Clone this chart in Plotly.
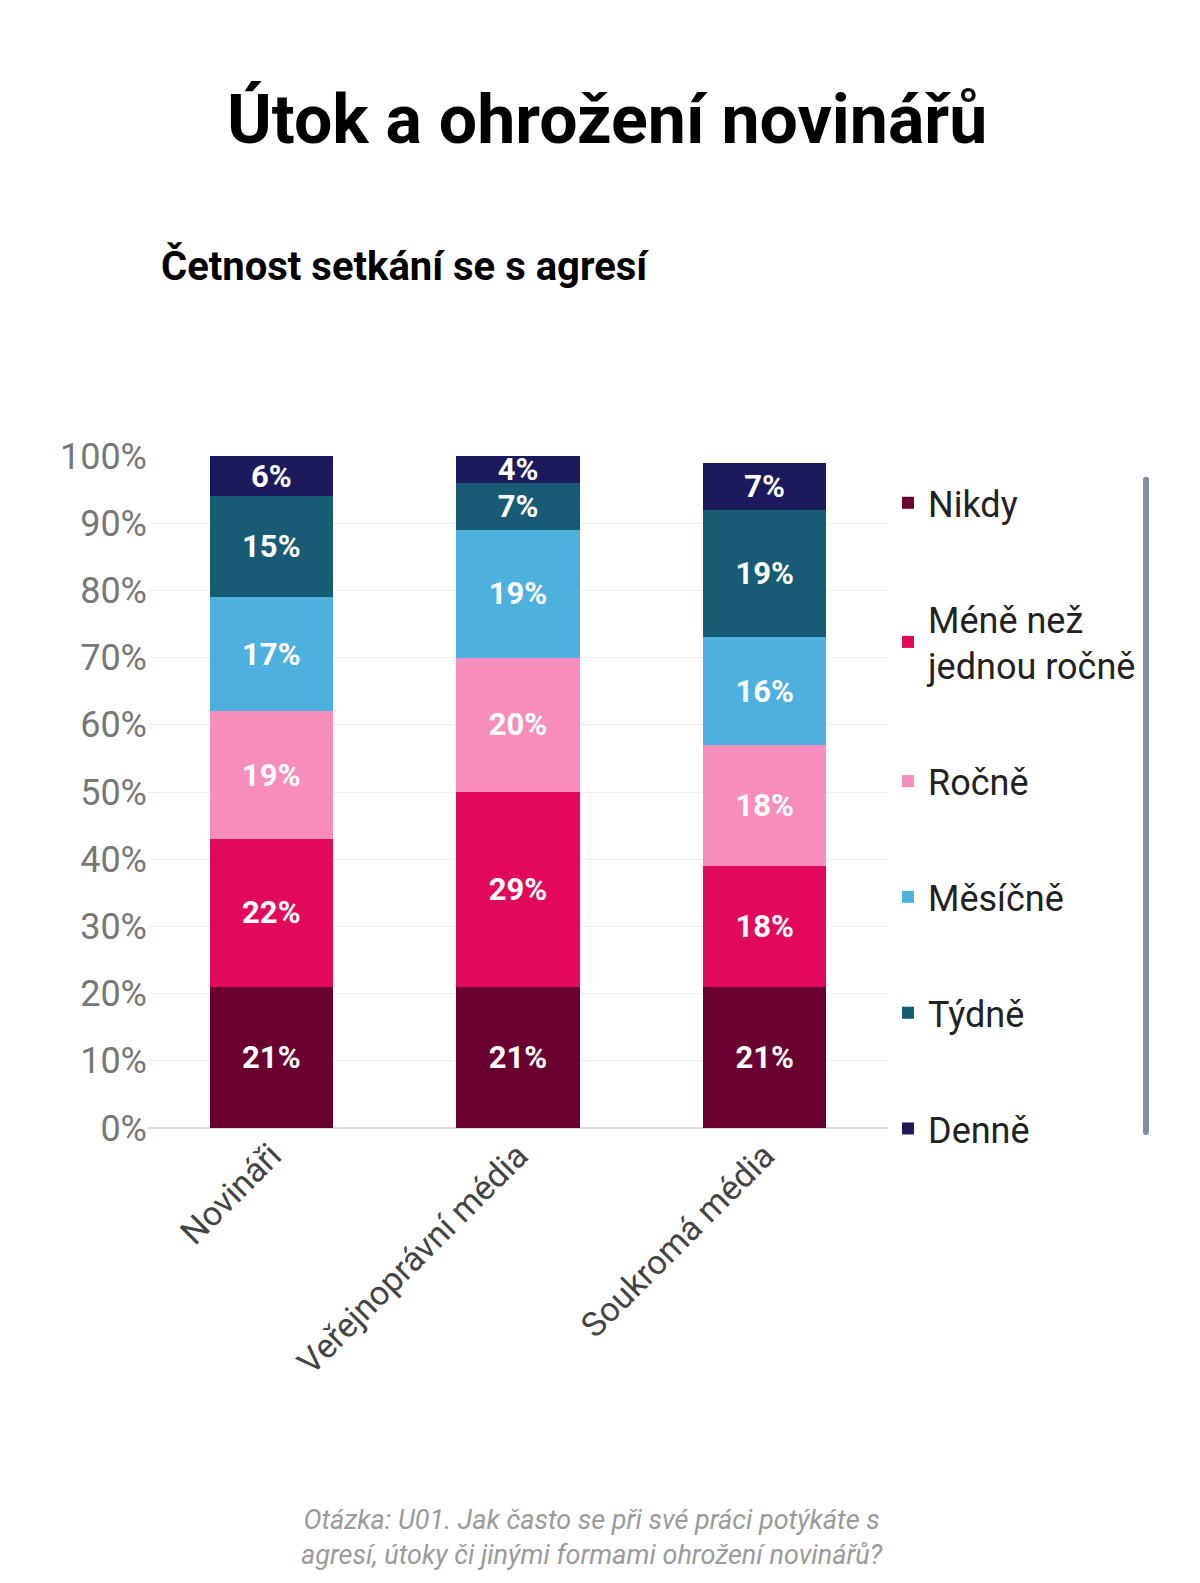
import plotly.graph_objects as go

categories = ["Novináři", "Veřejnoprávní média", "Soukromá média"]
series = ["Nikdy", "Méně než<br>jednou ročně", "Ročně", "Měsíčně", "Týdně", "Denně"]
values = [
    [21, 21, 21],
    [22, 29, 18],
    [19, 20, 18],
    [17, 19, 16],
    [15, 7, 19],
    [6, 4, 7],
]
colors = ["#6a0030", "#e2095c", "#f78dbd", "#4db0de", "#175b74", "#1c1a5c"]
t2b = [21, 11, 27]

fig = go.Figure()
for i, (name, vals) in enumerate(zip(series, values)):
    fig.add_bar(
        x=categories, y=vals, name=name, marker_color=colors[i],
        marker_line_width=0, width=0.5,
        text=[f"{v}%" for v in vals], textposition="inside",
        insidetextanchor="middle", constraintext="none",
        textfont=dict(color="white", size=31, family="Roboto", weight="bold"),
        legendgroup=str(i),
    )

for c, v in zip(categories, t2b):
    fig.add_annotation(x=c, y=107.5, text=f"<b>{v}%</b>", showarrow=False,
                       font=dict(size=40, color="black"))
fig.add_annotation(x=1.12, xref="paper", y=107, text="<b>T2B</b>", showarrow=False,
                   font=dict(size=34, color="black"))

fig.add_annotation(x=0.62, xref="paper", yref="paper", y=1.50, yanchor="middle",
                   text="<b>Útok a ohrožení novinářů</b>", showarrow=False,
                   font=dict(size=68, color="black"))
fig.add_annotation(x=0.68, xref="paper", yref="paper", y=1.283, yanchor="middle",
                   text="<b>Četnost setkání se s agresí</b>", showarrow=False,
                   font=dict(size=40, color="black"))
fig.add_annotation(x=0.6, xref="paper", yref="paper", y=-0.61, yanchor="middle",
                   text="<i>Otázka: U01. Jak často se při své práci potýkáte s<br>agresí, útoky či jinými formami ohrožení novinářů?</i>",
                   showarrow=False, align="center",
                   font=dict(size=27, color="#9a9a9a"))

fig.update_layout(
    width=1200, height=1583,
    barmode="stack",
    paper_bgcolor="white", plot_bgcolor="white",
    font=dict(family="Roboto", color="#555"),
    margin=dict(l=140, r=320, t=448, b=463),
    uniformtext=dict(minsize=28, mode="show"),
    legend=dict(traceorder="reversed+grouped", x=1.0, xanchor="left", y=0.975, yanchor="top",
                font=dict(size=36, color="#222"), tracegroupgap=66,
                itemsizing="constant"),
    xaxis=dict(tickangle=-45, tickfont=dict(size=34, color="#444"), showline=False),
    yaxis=dict(range=[0, 100], dtick=10, ticksuffix="%", gridcolor="#eeeeee",
               tickfont=dict(size=36, color="#777"), zeroline=True,
               zerolinecolor="#dddddd"),
)
fig.write_html("out.html")
